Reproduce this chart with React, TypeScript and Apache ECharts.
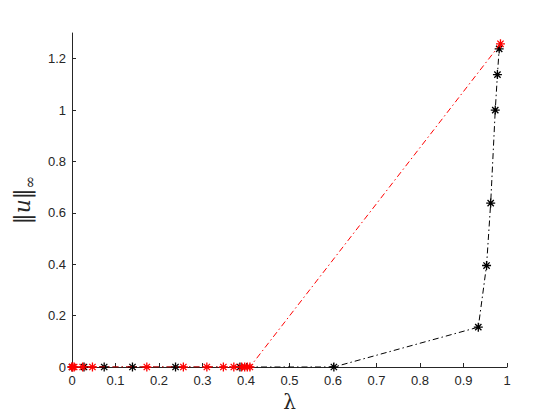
import React, { useEffect, useRef } from "react";
import * as echarts from "echarts";

const redX = [0, 0.0015, 0.005, 0.0245, 0.047, 0.172, 0.256, 0.31, 0.348, 0.372, 0.39, 0.397, 0.403, 0.409, 0.985];
const redY = [0, 0, 0, 0, 0, 0, 0, 0, 0, 0, 0, 0, 0, 0, 1.258];
const blackX = [0, 0.0276, 0.074, 0.139, 0.238, 0.386, 0.602, 0.934, 0.953, 0.9625, 0.973, 0.978, 0.982];
const blackY = [0, 0, 0, 0, 0, 0, 0, 0.155, 0.395, 0.638, 1.0, 1.138, 1.238];
const xTicks = [0, 0.1, 0.2, 0.3, 0.4, 0.5, 0.6, 0.7, 0.8, 0.9, 1];
const yTicks = [0, 0.2, 0.4, 0.6, 0.8, 1, 1.2];

const star = "path://M5,0L5,10M0,5L10,5M1.5,1.5L8.5,8.5M1.5,8.5L8.5,1.5";

export default function App() {
  const ref = useRef<HTMLDivElement>(null);
  useEffect(() => {
    const chart = echarts.init(ref.current!, null, { renderer: "svg" });
    const labelStyle = { color: "#262626", fontSize: 13, fontFamily: "'Liberation Sans', Arial, sans-serif" };
    chart.setOption({
      animation: false,
      backgroundColor: "#fff",
      grid: { left: 72, right: 53, top: 33, bottom: 53, containLabel: false },
      xAxis: {
        type: "value",
        min: 0,
        max: 1,
        interval: 0.1,
        name: "λ",
        nameLocation: "middle",
        nameGap: 25,
        nameTextStyle: { fontSize: 20, color: "#262626", fontFamily: "'DejaVu Serif', serif" },
        axisLine: { show: true, onZero: false, lineStyle: { color: "#262626", width: 1 } },
        axisTick: { show: true, inside: true, length: 4, lineStyle: { color: "#262626" }, customValues: xTicks },
        axisLabel: { ...labelStyle, margin: 7, customValues: xTicks, formatter: (v: number) => String(+v.toFixed(2)) },
        splitLine: { show: false },
      },
      yAxis: {
        type: "value",
        min: 0,
        max: 1.3,
        interval: 0.2,
        name: "{n|‖}{u|u}{n|‖}{s|∞}",
        nameLocation: "middle",
        nameGap: 32,
        nameRotate: 90,
        nameTextStyle: {
          rich: {
            n: { fontSize: 22, lineHeight: 30, verticalAlign: "middle", color: "#262626", fontFamily: "'DejaVu Serif', serif" },
            u: { fontSize: 22, lineHeight: 30, verticalAlign: "middle", color: "#262626", fontStyle: "italic", fontFamily: "'DejaVu Serif', serif" },
            s: { fontSize: 15, lineHeight: 30, verticalAlign: "bottom", color: "#262626", fontFamily: "'DejaVu Serif', serif" },
          },
        },
        axisLine: { show: true, onZero: false, lineStyle: { color: "#262626", width: 1 } },
        axisTick: { show: true, inside: true, length: 4, lineStyle: { color: "#262626" }, customValues: yTicks },
        axisLabel: { ...labelStyle, margin: 6, customValues: yTicks, formatter: (v: number) => String(+v.toFixed(2)) },
        splitLine: { show: false },
      },
      series: [
        {
          type: "line",
          data: blackX.map((x, i) => [x, blackY[i]]),
          symbol: star,
          symbolSize: 9,
          showAllSymbol: true,
          itemStyle: { color: "#000", borderColor: "#000", borderWidth: 1.3 },
          lineStyle: { color: "#000", width: 1, type: [6, 3, 1.5, 3] },
          z: 2,
        },
        {
          type: "line",
          data: redX.map((x, i) => [x, redY[i]]),
          symbol: star,
          symbolSize: 9,
          showAllSymbol: true,
          itemStyle: { color: "#ff0000", borderColor: "#ff0000", borderWidth: 1.3 },
          lineStyle: { color: "#ff0000", width: 1, type: [6, 3, 1.5, 3] },
          z: 3,
        },
      ],
    });
    return () => chart.dispose();
  }, []);
  return <div ref={ref} style={{ width: 560, height: 420, position: "absolute", left: 0, top: 0 }} />;
}
